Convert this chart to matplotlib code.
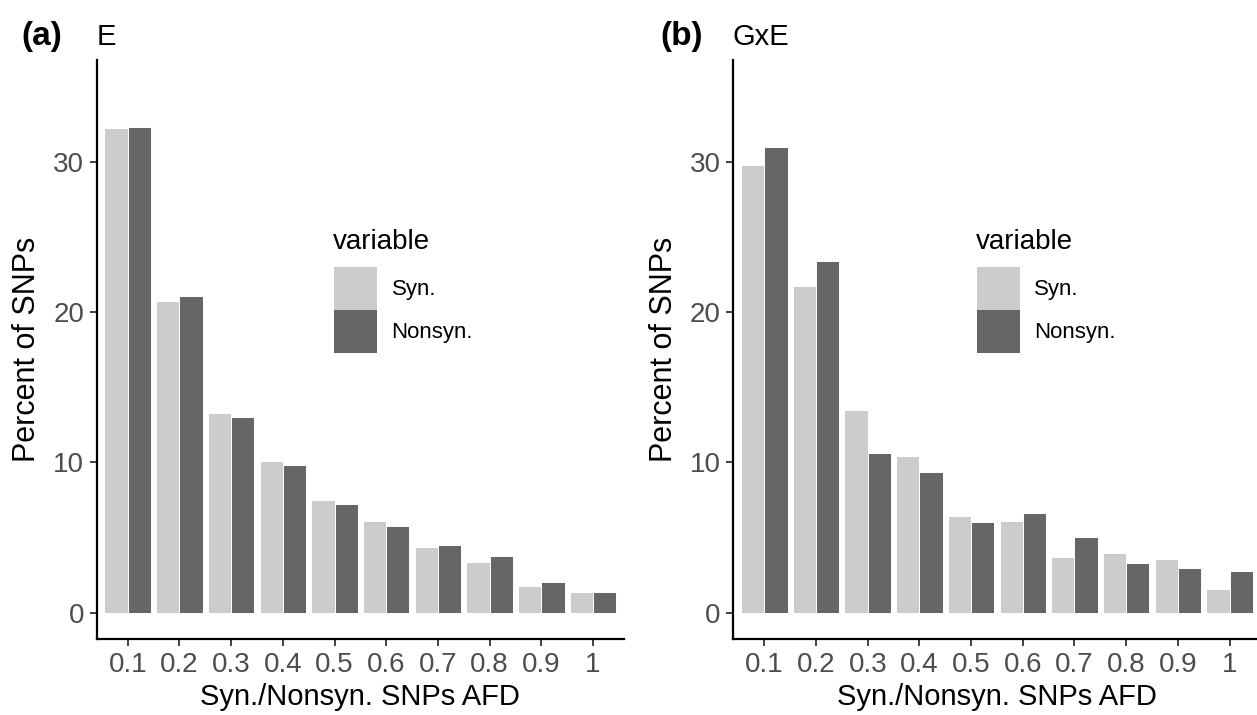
import matplotlib
matplotlib.use("Agg")
import matplotlib.pyplot as plt
from matplotlib.patches import Patch
import numpy as np

plt.rcParams['font.family'] = ['Liberation Sans', 'DejaVu Sans']

categories = ["0.1", "0.2", "0.3", "0.4", "0.5", "0.6", "0.7", "0.8", "0.9", "1"]
series_names = ["Syn.", "Nonsyn."]

e_syn = [32.2, 20.7, 13.3, 10.1, 7.5, 6.1, 4.4, 3.35, 1.8, 1.35]
e_nonsyn = [32.3, 21.05, 13.0, 9.85, 7.2, 5.75, 4.5, 3.8, 2.05, 1.35]

gxe_syn = [29.8, 21.7, 13.5, 10.4, 6.4, 6.1, 3.7, 4.0, 3.55, 1.6]
gxe_nonsyn = [30.95, 23.4, 10.6, 9.35, 6.0, 6.6, 5.0, 3.3, 2.95, 2.75]

y_ticks = [0, 10, 20, 30]
colors = ["#CCCCCC", "#666666"]

W, H = 1257, 715
fig = plt.figure(figsize=(W / 100, H / 100), dpi=100)


def px_axes(left, right, top, bottom):
    return fig.add_axes([left / W, 1 - bottom / H, (right - left) / W, (bottom - top) / H])


def draw_panel(ax, syn, nonsyn, leg_x):
    x = np.arange(1, len(categories) + 1)
    w = 0.45
    ax.bar(x - w / 2, syn, width=w, color=colors[0], edgecolor="white", linewidth=0.7)
    ax.bar(x + w / 2, nonsyn, width=w, color=colors[1], edgecolor="white", linewidth=0.7)
    ax.set_xlim(0.4, 10.6)
    ax.set_ylim(-1.75, 36.75)
    ax.set_xticks(x)
    ax.set_xticklabels(categories)
    ax.set_yticks(y_ticks)
    for s in ["top", "right"]:
        ax.spines[s].set_visible(False)
    for s in ["left", "bottom"]:
        ax.spines[s].set_linewidth(1.6)
        ax.spines[s].set_color("black")
    ax.tick_params(axis="both", length=5, width=1.3, color="#333333",
                   labelsize=20, labelcolor="#4D4D4D", pad=4)
    ax.set_xlabel("Syn./Nonsyn. SNPs AFD", fontsize=21, color="black", labelpad=4)
    ax.set_ylabel("Percent of SNPs", fontsize=22, color="black", labelpad=8)
    handles = [Patch(facecolor=colors[0], edgecolor="none"),
               Patch(facecolor=colors[1], edgecolor="none")]
    ax.legend(handles, series_names, loc="upper left",
              bbox_to_anchor=(leg_x, 0.6425), frameon=False, fontsize=16,
              handlelength=1.94, handleheight=2.6,
              handletextpad=0.65, labelspacing=0.0, borderaxespad=0,
              borderpad=0)
    ax.text(leg_x - 0.002, 0.6857, "variable", transform=ax.transAxes,
            fontsize=20, ha="left", va="center")


ax1 = px_axes(96.7, 624, 60, 639)
ax2 = px_axes(733.3, 1260.6, 60, 639)
draw_panel(ax1, e_syn, e_nonsyn, 0.45)
draw_panel(ax2, gxe_syn, gxe_nonsyn, 0.462)

fig.text(21 / W, 1 - 37 / H, "(a)", fontsize=24, fontweight="bold", va="center", ha="left")
fig.text(97 / W, 1 - 37 / H, "E", fontsize=21, va="center", ha="left")
fig.text(660 / W, 1 - 37 / H, "(b)", fontsize=24, fontweight="bold", va="center", ha="left")
fig.text(733 / W, 1 - 37 / H, "GxE", fontsize=21, va="center", ha="left")

fig.savefig("out.png", dpi=100)
